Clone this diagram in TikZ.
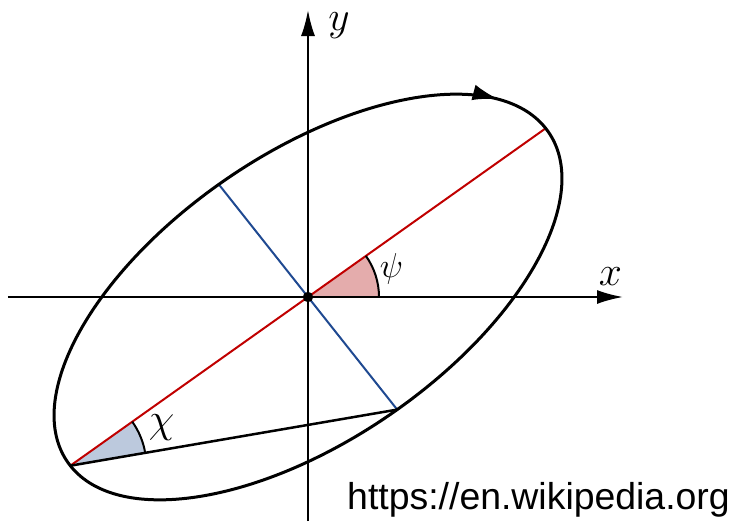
\documentclass[tikz,border=0pt]{standalone}
\usepackage{amsmath,amssymb}
\usepackage{fontspec}
\newfontfamily\urlfont{Liberation Sans}
\usetikzlibrary{arrows.meta,decorations.markings}
\definecolor{axisred}{RGB}{192,0,0}
\definecolor{axisblue}{RGB}{31,73,145}
\definecolor{psifill}{RGB}{228,172,172}
\definecolor{chifill}{RGB}{188,201,221}

\begin{document}
\begin{tikzpicture}[x=0.5pt, y=0.5pt, every node/.style={inner sep=0pt}, >={Latex[length=13pt,width=7pt]}]
	\useasboundingbox (-308,-224) rectangle (426,297);
	\coordinate (O) at (0,0);
	\coordinate (P) at (237.7,168.7);
	\coordinate (Q) at (-237.7,-168.7);
	\coordinate (B1) at (-89.2,112.6);
	\coordinate (B2) at (89.2,-112.6);
	% angle wedges
	\fill[psifill] (O) -- (35.5pt,0) arc[start angle=0, end angle=35.36, radius=35.5pt] -- cycle;
	\fill[chifill] (Q) -- ++(9.74:38pt) arc[start angle=9.74, end angle=35.36, radius=38pt] -- cycle;
	% axes
	\draw[->, line width=1pt] (-300,0) -- (315,0);
	\draw[->, line width=1pt] (0,-224) -- (0,287);
	\node at (302.5,20.5) {\fontsize{21}{25}\selectfont$x$};
	\node at (31,271) {\fontsize{21}{25}\selectfont$y$};
	% axes of the ellipse
	\draw[axisred, line width=1pt] (Q) -- (P);
	\draw[axisblue, line width=1pt] (B1) -- (B2);
	\draw[line width=1.25pt] (Q) -- (B2);
	\draw[line width=1pt] (O) ++(35.5pt,0) arc[start angle=0, end angle=35.36, radius=35.5pt];
	\draw[line width=1pt] (Q) ++(9.74:38pt) arc[start angle=9.74, end angle=35.36, radius=38pt];
	\node at (83.5,28) {\fontsize{17}{20}\selectfont$\psi$};
	\node at (-146.5,-131) {\fontsize{21}{25}\selectfont$\chi$};
	% the ellipse
	\begin{scope}[x={(118.85pt,84.35pt)}, y={(-44.6pt,56.3pt)}]
		\draw[line width=1.5pt, postaction={decorate}, decoration={markings, mark=at position 0.04 with {\arrowreversed{Latex[length=13pt,width=8pt]}}}] (0,0) circle (1);
	\end{scope}
	\fill (O) circle (2.6pt);
	\node at (230.5,-203) {\urlfont\fontsize{18.7}{22}\selectfont https://en.wikipedia.org};
\end{tikzpicture}
\end{document}
